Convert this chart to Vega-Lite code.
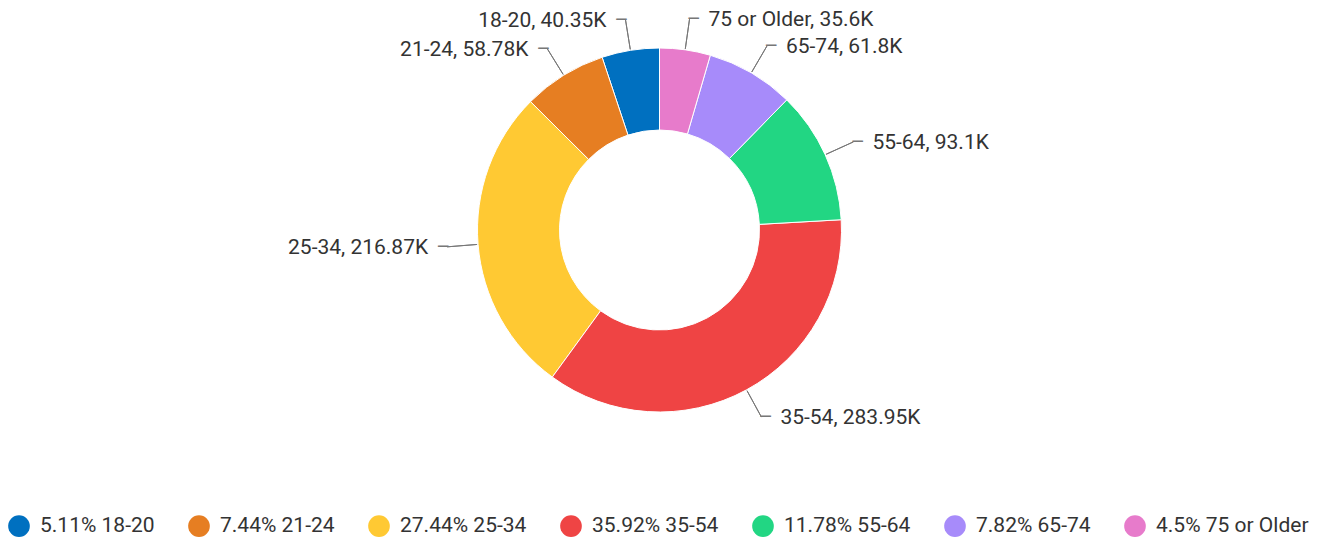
{
  "$schema": "https://vega.github.io/schema/vega-lite/v6.json",
  "width": 1319,
  "height": 460,
  "padding": 0,
  "background": "white",
  "config": {"view": {"stroke": null}, "font": "Roboto"},
  "data": {"values": [
    {"age": "18-20", "value": 40350, "label": "18-20, 40.35K"},
    {"age": "21-24", "value": 58780, "label": "21-24, 58.78K"},
    {"age": "25-34", "value": 216870, "label": "25-34, 216.87K"},
    {"age": "35-54", "value": 283950, "label": "35-54, 283.95K"},
    {"age": "55-64", "value": 93100, "label": "55-64, 93.1K"},
    {"age": "65-74", "value": 61800, "label": "65-74, 61.8K"},
    {"age": "75 or Older", "value": 35600, "label": "75 or Older, 35.6K"}
  ]},
  "encoding": {
    "theta": {"field": "value", "type": "quantitative", "stack": true},
    "order": {"field": "age", "sort": "descending"}
  },
  "layer": [
    {
      "mark": {"type": "arc", "outerRadius": 182, "innerRadius": 100, "stroke": "white", "strokeWidth": 1},
      "encoding": {
        "color": {
          "field": "age", "type": "nominal",
          "scale": {
            "domain": ["18-20", "21-24", "25-34", "35-54", "55-64", "65-74", "75 or Older"],
            "range": ["#0070C0", "#E67E22", "#FFC933", "#EF4444", "#22D683", "#A78BFA", "#E77BCB"]
          },
          "legend": {
            "title": null,
            "orient": "none",
            "direction": "horizontal",
            "legendX": 8,
            "legendY": 515,
            "symbolType": "circle",
            "symbolSize": 470,
            "symbolStrokeWidth": 0,
            "labelFont": "Roboto",
            "labelFontSize": 21,
            "labelColor": "#333333",
            "labelOffset": 10,
            "columnPadding": 33,
            "padding": 0,
            "labelExpr": "{'18-20':'5.11% 18-20','21-24':'7.44% 21-24','25-34':'27.44% 25-34','35-54':'35.92% 35-54','55-64':'11.78% 55-64','65-74':'7.82% 65-74','75 or Older':'4.5% 75 or Older'}[datum.label]"
          }
        }
      }
    },
    {
      "mark": {"type": "arc", "outerRadius": 213, "innerRadius": 183, "padAngle": 3, "fill": "transparent", "stroke": "#777777", "strokeWidth": 1},
      "encoding": {"detail": {"field": "age"}}
    },
    {
      "mark": {"type": "text", "radius": 213, "align": "left", "baseline": "middle", "font": "DejaVu Sans", "fontSize": 17, "color": "#777777", "dx": -1},
      "encoding": {
        "detail": {"field": "age"},
        "text": {"condition": {"test": "indexof(['18-20','21-24','25-34'], datum.age) < 0", "value": "─"}, "value": ""}
      }
    },
    {
      "mark": {"type": "text", "radius": 213, "align": "right", "baseline": "middle", "font": "DejaVu Sans", "fontSize": 17, "color": "#777777", "dx": 1},
      "encoding": {
        "detail": {"field": "age"},
        "text": {"condition": {"test": "indexof(['18-20','21-24','25-34'], datum.age) >= 0", "value": "─"}, "value": ""}
      }
    },
    {
      "mark": {"type": "text", "radius": 213, "align": "left", "baseline": "middle", "font": "Roboto", "fontSize": 21, "color": "#333333", "dx": 19, "dy": 1},
      "encoding": {
        "detail": {"field": "age"},
        "text": {"condition": {"test": "indexof(['18-20','21-24','25-34'], datum.age) < 0", "field": "label"}, "value": ""}
      }
    },
    {
      "mark": {"type": "text", "radius": 213, "align": "right", "baseline": "middle", "font": "Roboto", "fontSize": 21, "color": "#333333", "dx": -19, "dy": 1},
      "encoding": {
        "detail": {"field": "age"},
        "text": {"condition": {"test": "indexof(['18-20','21-24','25-34'], datum.age) >= 0", "field": "label"}, "value": ""}
      }
    }
  ]
}
